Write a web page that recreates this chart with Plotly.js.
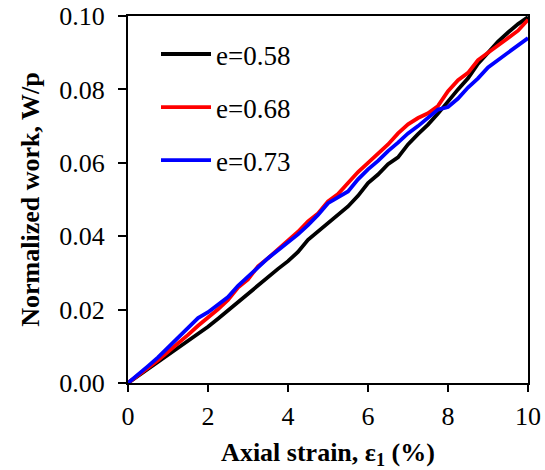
<!DOCTYPE html>
<html>
<head>
<meta charset="utf-8">
<script src="https://cdn.plot.ly/plotly-3.0.1.min.js"></script>
<style>html,body{margin:0;padding:0;background:#fff;}#chart{width:545px;height:470px;}</style>
</head>
<body>
<div id="chart"></div>
<script>
// Axial strain (%)
const strain = [0,0.25,0.5,0.75,1,1.25,1.5,1.75,2,2.25,2.5,2.75,3,3.25,3.5,3.75,4,4.25,4.5,4.75,5,5.25,5.5,5.75,6,6.25,6.5,6.75,7,7.25,7.5,7.75,8,8.25,8.5,8.75,9,9.25,9.5,9.75,10];
// Normalized work W/p
const w058 = [0,0.0019,0.0038,0.0057,0.0076,0.0095,0.0115,0.0135,0.0153,0.0175,0.0198,0.0220,0.0243,0.0266,0.0290,0.0311,0.0332,0.0357,0.0390,0.0412,0.0434,0.0458,0.0481,0.0510,0.0545,0.0568,0.0596,0.0615,0.0650,0.0678,0.0704,0.0734,0.0768,0.0800,0.0830,0.0870,0.0900,0.0930,0.0955,0.0978,0.0997];
const w068 = [0,0.0020,0.0041,0.0062,0.0085,0.0107,0.0131,0.0156,0.0177,0.0201,0.0226,0.0260,0.0282,0.0318,0.0340,0.0364,0.0390,0.0412,0.0440,0.0462,0.0495,0.0515,0.0545,0.0575,0.0600,0.0625,0.0650,0.0680,0.0705,0.0722,0.0735,0.0755,0.0795,0.0825,0.0845,0.0880,0.0900,0.0918,0.0940,0.0960,0.0990];
const w073 = [0,0.0022,0.0046,0.0070,0.0096,0.0123,0.0148,0.0177,0.0193,0.0213,0.0234,0.0265,0.0290,0.0318,0.0340,0.0362,0.0382,0.0405,0.0430,0.0458,0.0490,0.0505,0.0522,0.0555,0.0582,0.0605,0.0632,0.0655,0.0680,0.0700,0.0722,0.0745,0.0752,0.0775,0.0805,0.0830,0.0860,0.0880,0.0900,0.0920,0.0940];
const seriesNames = ['e=0.58','e=0.68','e=0.73'];
const seriesColors = ['#000000','#ff0000','#0000ff'];
const xTicks = [0,2,4,6,8,10];
const yTicks = [0,0.02,0.04,0.06,0.08,0.10];
const yTickText = ['0.00','0.02','0.04','0.06','0.08','0.10'];

const seriesData = [w058, w068, w073];
const traces = seriesData.map((ys, i) => ({
  x: strain, y: ys, type: 'scatter', mode: 'lines',
  name: seriesNames[i], legendgroup: 'g' + i,
  line: {color: seriesColors[i], width: 3.8}
}));

const serif = '"Times New Roman", "Liberation Serif", "DejaVu Serif", serif';
const layout = {
  width: 545, height: 470,
  font: {family: serif, color: '#000'},
  margin: {l: 128, r: 17, t: 16, b: 87},
  paper_bgcolor: '#fff', plot_bgcolor: '#fff',
  showlegend: true,
  legend: {x: 0.07, y: 0.962, xanchor: 'left', yanchor: 'top',
           font: {family: serif, size: 27, color: '#000'},
           bgcolor: 'rgba(0,0,0,0)', tracegroupgap: 15, itemwidth: 50},
  xaxis: {
    range: [0, 10], tickvals: xTicks, ticktext: xTicks.map(String),
    ticks: 'outside', ticklen: 7, tickwidth: 2, tickcolor: '#000',
    showline: true, linewidth: 2, linecolor: '#000', mirror: true,
    showgrid: false, zeroline: false, ticklabelstandoff: 2,
    tickfont: {family: serif, size: 26, color: '#000'},
    title: {text: '<b>Axial strain, ε<sub>1</sub> (%)</b>', font: {family: serif, size: 26, color: '#000'}, standoff: 16}
  },
  yaxis: {
    range: [0, 0.1], tickvals: yTicks, ticktext: yTickText,
    ticks: 'outside', ticklen: 8, tickwidth: 2, tickcolor: '#000',
    showline: true, linewidth: 2, linecolor: '#000', mirror: true,
    showgrid: false, zeroline: false, ticklabelstandoff: 8,
    tickfont: {family: serif, size: 26, color: '#000'},
    title: {text: '<b>Normalized work, W/p</b>', font: {family: serif, size: 26, color: '#000'}, standoff: 12}
  }
};
Plotly.newPlot('chart', traces, layout, {staticPlot: true, displayModeBar: false});
</script>
</body>
</html>
